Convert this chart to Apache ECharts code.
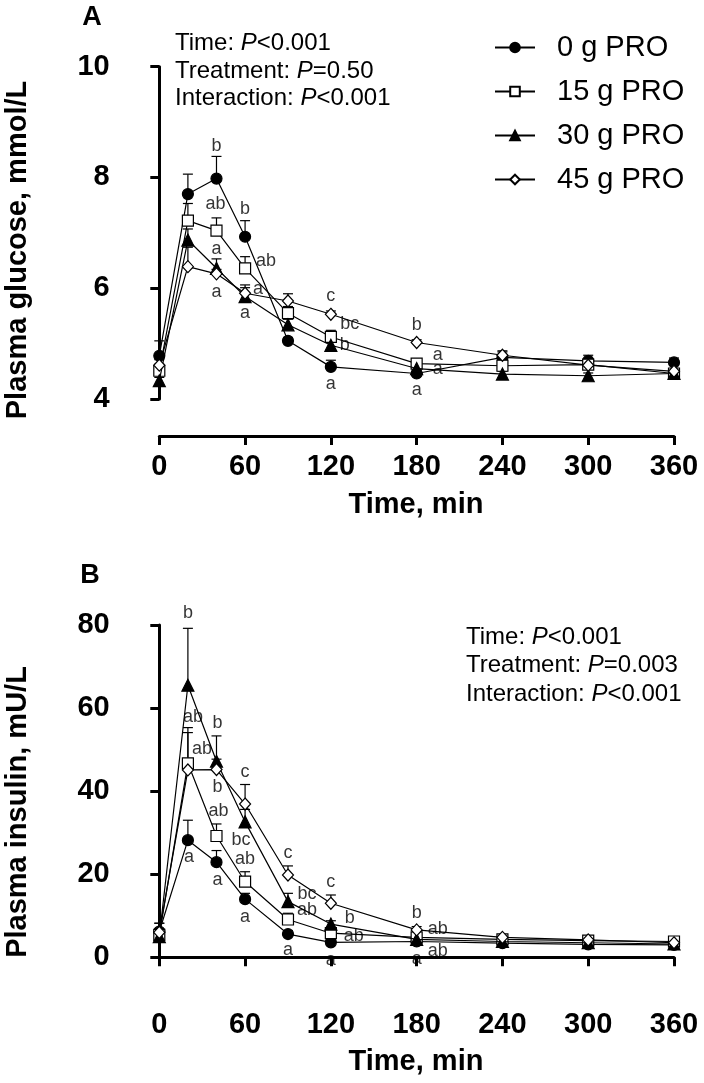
<!DOCTYPE html>
<html><head><meta charset="utf-8">
<script src="https://cdn.jsdelivr.net/npm/echarts@6/dist/echarts.min.js"></script>
<style>html,body{margin:0;padding:0;background:#fff}#c{width:704px;height:1083px}</style>
</head><body><div id="c"></div><script>
const FONT = '"Liberation Sans", Arial, Helvetica, sans-serif';
const times = [0, 20, 40, 60, 90, 120, 180, 240, 300, 360];
const xTicks = [0, 60, 120, 180, 240, 300, 360];
const seriesNames = ['0 g PRO', '15 g PRO', '30 g PRO', '45 g PRO'];

// Panel A: plasma glucose (mmol/L), mean and SEM
const glucose0  = [4.78, 7.70, 7.98, 6.93, 5.05, 4.58, 4.46, 4.75, 4.69, 4.66];
const glucose15 = [4.51, 7.22, 7.04, 6.36, 5.55, 5.12, 4.64, 4.60, 4.62, 4.46];
const glucose30 = [4.33, 6.87, 6.36, 5.85, 5.34, 4.97, 4.55, 4.45, 4.42, 4.46];
const glucose45 = [4.61, 6.39, 6.26, 5.91, 5.77, 5.53, 5.02, 4.79, 4.61, 4.50];
const glucoseErr0  = [0.27, 0.36, 0.40, 0.29, 0.06, 0.12, 0.06, 0.10, 0.10, 0.08];
const glucoseErr15 = [0.12, 0.31, 0.23, 0.21, 0.12, 0.12, 0.06, 0.06, 0.06, 0.05];
const glucoseErr30 = [0.06, 0.20, 0.17, 0.21, 0.10, 0.08, 0.05, 0.05, 0.05, 0.05];
const glucoseErr45 = [0.10, 0.35, 0.08, 0.10, 0.13, 0.06, 0.05, 0.08, 0.05, 0.05];

// Panel B: plasma insulin (mU/L), mean and SEM
const insulin0  = [6.2, 28.2, 22.9, 14.0, 5.6, 3.6, 3.8, 3.4, 3.1, 3.0];
const insulin15 = [5.4, 46.7, 29.2, 18.2, 9.1, 5.8, 4.8, 4.3, 4.0, 3.8];
const insulin30 = [5.0, 65.5, 47.2, 32.6, 13.4, 8.0, 4.3, 3.8, 3.5, 3.2];
const insulin45 = [6.0, 45.1, 45.2, 36.9, 19.8, 13.0, 6.6, 4.8, 4.2, 3.5];
const insulinErr0  = [2.0, 4.8, 2.8, 1.4, 0.8, 0.6, 0.5, 0.4, 0.4, 0.3];
const insulinErr15 = [1.5, 8.6, 2.9, 2.4, 1.5, 1.0, 0.6, 0.5, 0.5, 0.4];
const insulinErr30 = [1.5, 13.7, 6.1, 3.0, 2.0, 0.8, 0.6, 0.5, 0.4, 0.4];
const insulinErr45 = [2.2, 9.0, 2.5, 4.7, 2.2, 2.0, 0.8, 0.6, 0.5, 0.4];

// significance letters
const lettersA0  = [null, null, 'b', 'b', null, 'a', 'a', null, null, null];
const lettersA15 = [null, null, 'ab', 'ab', null, 'bc', 'a', null, null, null];
const lettersA30 = [null, null, 'a', 'a', null, 'b', 'a', null, null, null];
const lettersA45 = [null, null, 'a', 'a', null, 'c', 'b', null, null, null];
const lettersB0  = [null, 'a', 'a', 'a', 'a', 'a', 'a', null, null, null];
const lettersB15 = [null, 'ab', 'ab', 'ab', 'ab', 'ab', 'ab', null, null, null];
const lettersB30 = [null, 'b', 'b', 'bc', 'bc', 'b', 'ab', null, null, null];
const lettersB45 = [null, 'ab', 'b', 'c', 'c', 'c', 'b', null, null, null];

// label placement (pixel offsets from the point)
const offA0  = [null, null, [0,-33], [0,-28], null, [0,17], [0,17], null, null, null];
const offA15 = [null, null, [-1,-27], [21,-7], null, [19,-13], [21,-9], null, null, null];
const offA30 = [null, null, [0,-19], [0,16], null, [14,0], [21,0], null, null, null];
const offA45 = [null, null, [0,18], [13,-4], null, [0,-18], [0,-17], null, null, null];
const offB0  = [null, [1,17], [1,18], [0,18], [0,16], [0,18], [0,18], null, null, null];
const offB15 = [null, [5,-46], [2,-25], [0,-23], [19,-9], [23,3], [21,-8], null, null, null];
const offB30 = [null, [0,-72], [1,-38], [-4,18], [19,-8], [19,-6], [21,12], null, null, null];
const offB45 = [null, [14,-21], [1,17], [0,-32], [0,-22], [0,-21], [0,-17], null, null, null];

const symbols = [
  {symbol: 'circle', size: 11, fill: '#000'},
  {symbol: 'rect', size: 11, fill: '#fff'},
  {symbol: 'triangle', size: 12, fill: '#000'},
  {symbol: 'diamond', size: [11, 12], fill: '#fff'}
];

function lineSeries(idx, k, vals) {
  const s = symbols[k];
  return {
    name: seriesNames[k], type: 'line', xAxisIndex: idx, yAxisIndex: idx, clip: false,
    data: times.map((t, i) => [t, vals[i]]),
    symbol: s.symbol, symbolSize: s.size, showAllSymbol: true,
    lineStyle: {color: '#000', width: 1.2},
    itemStyle: {color: s.fill, borderColor: '#000', borderWidth: 1.2},
    z: 5 + k * 0.1, animation: false, silent: true
  };
}
function errSeries(idx, vals, errs) {
  return {
    type: 'custom', xAxisIndex: idx, yAxisIndex: idx, z: 4, silent: true, animation: false, clip: false,
    data: times.map((t, i) => [t, vals[i], vals[i] + errs[i]]),
    encode: {x: 0, y: [1, 2]},
    renderItem(params, api) {
      const p0 = api.coord([api.value(0), api.value(1)]);
      const p1 = api.coord([api.value(0), api.value(2)]);
      const hw = 5;
      return {type: 'group', children: [
        {type: 'line', shape: {x1: p0[0], y1: p0[1], x2: p1[0], y2: p1[1]}, style: {stroke: '#000', lineWidth: 1.2}},
        {type: 'line', shape: {x1: p1[0] - hw, y1: p1[1], x2: p1[0] + hw, y2: p1[1]}, style: {stroke: '#000', lineWidth: 1.2}}
      ]};
    }
  };
}
function letterSeries(idx, vals, letters, offs) {
  const data = [];
  letters.forEach((l, i) => {
    if (l) data.push({value: [times[i], vals[i]], label: {formatter: l, offset: offs[i]}});
  });
  return {
    type: 'scatter', xAxisIndex: idx, yAxisIndex: idx, symbolSize: 1, silent: true, animation: false, clip: false,
    itemStyle: {color: 'transparent'}, z: 10,
    label: {show: true, position: 'inside', color: '#000', fontSize: 18, fontFamily: FONT},
    data
  };
}

const axisCommon = {
  axisLine: {show: true, lineStyle: {color: '#000', width: 3}},
  axisTick: {show: true, length: 9, lineStyle: {color: '#000', width: 3}},
  splitLine: {show: false},
  axisLabel: {color: '#000', fontSize: 29, fontWeight: 'bold', fontFamily: FONT}
};

const option = {
  backgroundColor: '#fff',
  animation: false,
  grid: [
    {left: 159.3, right: 30, top: 66.7, height: 332.3},
    {left: 159.3, right: 30, top: 625, height: 332.3}
  ],
  xAxis: [0, 1].map(i => Object.assign({}, axisCommon, {
    type: 'value', gridIndex: i, min: 0, max: 360, interval: 60, offset: 37,
    axisLabel: Object.assign({}, axisCommon.axisLabel, {margin: 16})
  })),
  yAxis: [
    Object.assign({}, axisCommon, {type: 'value', gridIndex: 0, min: 4, max: 10, interval: 2, offset: 37.6,
      axisLabel: Object.assign({}, axisCommon.axisLabel, {margin: 12})}),
    Object.assign({}, axisCommon, {type: 'value', gridIndex: 1, min: 0, max: 80, interval: 20, offset: 37.6,
      axisLabel: Object.assign({}, axisCommon.axisLabel, {margin: 12})})
  ],
  legend: {
    orient: 'vertical', left: 489, top: 28, itemWidth: 40, itemHeight: 12, itemGap: 15,
    data: seriesNames, selectedMode: false,
    textStyle: {color: '#000', fontSize: 29, fontFamily: FONT, lineHeight: 28, padding: [0, 0, 0, 17]}
  },
  graphic: [
    {type: 'text', x: 92, y: 18, style: {text: 'A', font: 'bold 27px ' + FONT, fill: '#000', textAlign: 'center', textVerticalAlign: 'middle'}},
    {type: 'text', x: 90, y: 576, style: {text: 'B', font: 'bold 27px ' + FONT, fill: '#000', textAlign: 'center', textVerticalAlign: 'middle'}},
    {type: 'text', x: 18, y: 250, rotation: Math.PI / 2, style: {text: 'Plasma glucose, mmol/L', font: 'bold 29px ' + FONT, fill: '#000', textAlign: 'center', textVerticalAlign: 'middle'}},
    {type: 'text', x: 18, y: 812, rotation: Math.PI / 2, style: {text: 'Plasma insulin, mU/L', font: 'bold 29px ' + FONT, fill: '#000', textAlign: 'center', textVerticalAlign: 'middle'}},
    {type: 'text', x: 416, y: 505, style: {text: 'Time, min', font: 'bold 29px ' + FONT, fill: '#000', textAlign: 'center', textVerticalAlign: 'middle'}},
    {type: 'text', x: 416, y: 1062, style: {text: 'Time, min', font: 'bold 29px ' + FONT, fill: '#000', textAlign: 'center', textVerticalAlign: 'middle'}},
    {type: 'text', x: 175, y: 30, style: {
      text: 'Time: {i|P}<0.001\nTreatment: {i|P}=0.50\nInteraction: {i|P}<0.001',
      font: '24px ' + FONT, fill: '#000', lineHeight: 27.5,
      rich: {i: {fontStyle: 'italic', fontSize: 24, fontFamily: FONT, lineHeight: 27.5}}
    }},
    {type: 'text', x: 466, y: 623, style: {
      text: 'Time: {i|P}<0.001\nTreatment: {i|P}=0.003\nInteraction: {i|P}<0.001',
      font: '24px ' + FONT, fill: '#000', lineHeight: 28.5,
      rich: {i: {fontStyle: 'italic', fontSize: 24, fontFamily: FONT, lineHeight: 28.5}}
    }}
  ],
  series: [
    errSeries(0, glucose0, glucoseErr0), errSeries(0, glucose15, glucoseErr15),
    errSeries(0, glucose30, glucoseErr30), errSeries(0, glucose45, glucoseErr45),
    lineSeries(0, 0, glucose0), lineSeries(0, 1, glucose15), lineSeries(0, 2, glucose30), lineSeries(0, 3, glucose45),
    letterSeries(0, glucose0, lettersA0, offA0), letterSeries(0, glucose15, lettersA15, offA15),
    letterSeries(0, glucose30, lettersA30, offA30), letterSeries(0, glucose45, lettersA45, offA45),
    errSeries(1, insulin0, insulinErr0), errSeries(1, insulin15, insulinErr15),
    errSeries(1, insulin30, insulinErr30), errSeries(1, insulin45, insulinErr45),
    lineSeries(1, 0, insulin0), lineSeries(1, 1, insulin15), lineSeries(1, 2, insulin30), lineSeries(1, 3, insulin45),
    letterSeries(1, insulin0, lettersB0, offB0), letterSeries(1, insulin15, lettersB15, offB15),
    letterSeries(1, insulin30, lettersB30, offB30), letterSeries(1, insulin45, lettersB45, offB45)
  ]
};
const chart = echarts.init(document.getElementById('c'), null, {renderer: 'canvas'});
chart.setOption(option);
</script></body></html>
